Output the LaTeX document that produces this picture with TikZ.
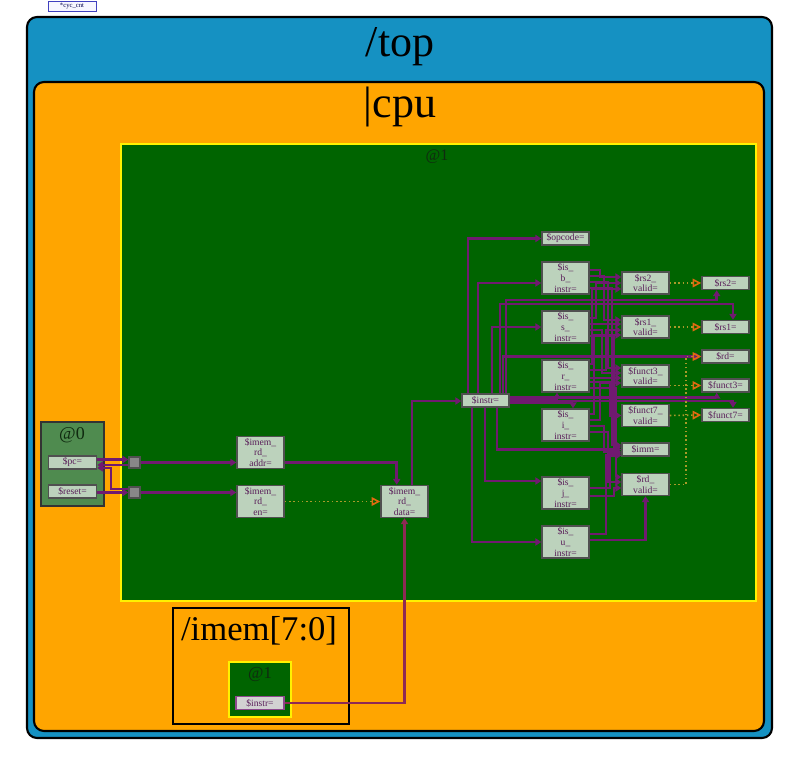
\documentclass[tikz,border=0pt]{standalone}
\usepackage{fontspec}
\setmainfont{Liberation Serif}
\usepackage{tikz}
\usetikzlibrary{arrows.meta}

\definecolor{topblue}{HTML}{1591C2}
\definecolor{cpuorange}{HTML}{FFA500}
\definecolor{stagegreen}{HTML}{006400}
\definecolor{stagezero}{HTML}{4F8B4F}
\definecolor{sigfill}{HTML}{BCD2BC}
\definecolor{sigline}{HTML}{505050}
\definecolor{sigtext}{HTML}{5A1F5A}
\definecolor{wirecol}{HTML}{701A70}
\definecolor{memcol}{HTML}{8E2A55}
\definecolor{validcol}{HTML}{A89A2A}
\definecolor{vhead}{HTML}{E06A10}
\definecolor{stgfill}{HTML}{888888}
\definecolor{labtext}{HTML}{102A10}

\tikzset{
  sig/.style={draw=sigline, fill=sigfill, line width=1.1pt, inner sep=0pt,
    minimum width=35.25pt, align=center, text=sigtext,
    font=\fontsize{7.2}{8}\selectfont},
  sigA/.style={sig, minimum height=9.75pt},
  sigB/.style={sig, minimum height=16.5pt},
  sigC/.style={sig, minimum height=24pt},
  stgbox/.style={draw=sigline, fill=stgfill, line width=0.9pt, minimum size=8.25pt, inner sep=0pt},
  wire/.style={draw=wirecol, line width=1.9pt, -{Triangle[length=4.5pt,width=5.5pt]}},
  vwire/.style={draw=validcol, dotted, line width=1.2pt, -{Triangle[open,length=6.5pt,width=6.5pt,color=vhead]}},
  title/.style={anchor=base, inner sep=0pt, font=\fontsize{33}{33}\selectfont},
  stagelab/.style={inner sep=0pt, text=labtext}
}

\begin{document}
\begin{tikzpicture}[x=0.75pt,y=0.75pt,yscale=-1,xscale=1]
        \useasboundingbox (0,0) rectangle (793,762);
        % Containers
        \draw[line width=1.6pt, fill=topblue, rounded corners=7.5pt] (27,17) rectangle (772,738);
        \draw[line width=1.6pt, fill=cpuorange, rounded corners=7.5pt] (34,82) rectangle (764,731);
        \draw[draw=yellow, line width=0.9pt, fill=stagegreen] (121,144) rectangle (756,601);
        \draw[draw=black!80, line width=0.9pt, fill=stagezero] (41,422) rectangle (104,506);
        \draw[line width=1.6pt] (173,608) rectangle (349,724);
        \draw[draw=yellow, line width=1.3pt, fill=stagegreen] (229,662) rectangle (291,717);
        % Titles
        \node (topT) at (400,57) [title] {/top};
        \node (cpuT) at (400,118) [title] {\textbar cpu};
        \node (imemT) at (259,641) [title, font=\fontsize{26}{26}\selectfont] {/imem[7:0]};
        \node (stgOne) at (437,157) [stagelab, font=\fontsize{12}{12}\selectfont] {@1};
        \node (stgZero) at (72,435) [stagelab, font=\fontsize{13.5}{13.5}\selectfont] {@0};
        \node (stgMem) at (260,675) [stagelab, font=\fontsize{12.5}{12.5}\selectfont] {@1};
        % Cycle counter tag
        \node (cyc) at (72,6.5) [draw=blue!50!gray, fill=blue!3, line width=0.6pt, inner sep=0pt,
            minimum width=36pt, minimum height=8pt, text=blue!30!black,
            font=\fontsize{5}{5}\selectfont] {*cyc\_cnt};
        % Signals @0
        \node (pc) at (72.5,462.5) [sigA, minimum width=36pt] {\$pc=};
        \node (reset) at (72.5,491.5) [sigA, minimum width=36pt] {\$reset=};
        \node (stgPc) at (134.5,462.5) [stgbox] {};
        \node (stgReset) at (134.5,492.5) [stgbox] {};
        % Signals @1
        \node (rdAddr) at (260.5,452.5) [sigC] {\$imem\_\\rd\_\\addr=};
        \node (rdEn) at (260.5,501.5) [sigC] {\$imem\_\\rd\_\\en=};
        \node (rdData) at (404.5,501.5) [sigC] {\$imem\_\\rd\_\\data=};
        \node (instr) at (485.5,400.5) [sigA] {\$instr=};
        \node (opcode) at (565.5,238.5) [sigA] {\$opcode=};
        \node (isB) at (565.5,278) [sigC] {\$is\_\\b\_\\instr=};
        \node (isS) at (565.5,327) [sigC] {\$is\_\\s\_\\instr=};
        \node (isR) at (565.5,376) [sigC] {\$is\_\\r\_\\instr=};
        \node (isI) at (565.5,425) [sigC] {\$is\_\\i\_\\instr=};
        \node (isJ) at (565.5,493) [sigC] {\$is\_\\j\_\\instr=};
        \node (isU) at (565.5,542) [sigC] {\$is\_\\u\_\\instr=};
        \node (rsTwoV) at (645.5,283) [sigB] {\$rs2\_\\valid=};
        \node (rsOneV) at (645.5,327) [sigB] {\$rs1\_\\valid=};
        \node (fThreeV) at (645.5,376) [sigB] {\$funct3\_\\valid=};
        \node (fSevenV) at (645.5,415.5) [sigB] {\$funct7\_\\valid=};
        \node (imm) at (645.5,449.5) [sigA] {\$imm=};
        \node (rdV) at (645.5,484.5) [sigB] {\$rd\_\\valid=};
        \node (rsTwo) at (725.5,283) [sigA] {\$rs2=};
        \node (rsOne) at (725.5,327) [sigA] {\$rs1=};
        \node (rd) at (725.5,356.5) [sigA] {\$rd=};
        \node (fThree) at (725.5,385.5) [sigA] {\$funct3=};
        \node (fSeven) at (725.5,415) [sigA] {\$funct7=};
        % imem
        \node (memInstr) at (260,703) [sigA, minimum width=36pt, fill=gray!35, draw=wirecol!80] {\$instr=};
        % Wires @0 -> @1
        \draw[wire] (pc.east |- 0,459.5) -- (stgPc.west |- 0,459.5);
        \draw[wire] (stgPc.west |- 0,465) -- (pc.east |- 0,465);
        \draw[wire] (stgReset.west |- 0,489) -| (111,468) -- (pc.east |- 0,468);
        \draw[wire] (reset.east |- 0,492.5) -- (stgReset.west |- 0,492.5);
        \draw[wire] (stgPc.east) -- (rdAddr.west |- stgPc.east);
        \draw[wire] (stgReset.east) -- (rdEn.west |- stgReset.east);
        % imem read
        \draw[wire] (rdAddr.east |- 0,462.5) -| (396.7,0 |- rdData.north);
        \draw[vwire] (rdEn.east) -- (rdData.west);
        \draw[wire] (412,0 |- rdData.north) |- (instr.west |- 0,401);
        \draw[wire, draw=memcol] (memInstr.east) -| (404.5,0 |- rdData.south);
        % Decode
        \draw[wire] (468,0 |- instr.north) |- (opcode.west);
        \draw[wire] (478,0 |- instr.north) |- (isB.west |- 0,283);
        \draw[wire] (492,0 |- instr.north) |- (isS.west);
        \draw[wire] (instr.east |- 0,399) -| (557,0 |- isR.south);
        \draw[wire] (instr.east |- 0,403) -| (573,0 |- isI.north);
        \draw[wire] (485,0 |- instr.south) |- (isJ.west |- 0,481);
        \draw[wire] (472,0 |- instr.south) |- (isU.west);
        \draw[wire] (497,0 |- instr.south) |- (imm.west);
        \draw[wire] (503,0 |- instr.north) |- (rd.west);
        \draw[wire] (506,0 |- instr.north) |- (716.7,300) -- (716.7,0 |- rsTwo.south);
        \draw[wire] (500,0 |- instr.north) |- (733,304) -- (733,0 |- rsOne.north);
        \draw[wire] (instr.east |- 0,397.5) -| (716.7,0 |- fThree.south);
        \draw[wire] (instr.east |- 0,401) -| (733,0 |- fSeven.north);
        % Valid logic
        \draw[wire] (isB.east |- 0,270) -| (600,277) -- (rsTwoV.west |- 0,277);
        \draw[wire] (isB.east |- 0,276) -| (604,320) -- (rsOneV.west |- 0,320);
        \draw[wire] (isB.east |- 0,282) -| (608,368) -- (fThreeV.west |- 0,368);
        \draw[wire] (isB.east |- 0,288) -| (612,445) -- (imm.west |- 0,445);
        \draw[wire] (isS.east |- 0,318) -| (596,283) -- (rsTwoV.west |- 0,283);
        \draw[wire] (isS.east |- 0,324) -- (rsOneV.west |- 0,324);
        \draw[wire] (isS.east |- 0,330) -| (602,373) -- (fThreeV.west |- 0,373);
        \draw[wire] (isS.east |- 0,336) -| (614,447) -- (imm.west |- 0,447);
        \draw[wire] (isR.east |- 0,364) -| (592,289) -- (rsTwoV.west |- 0,289);
        \draw[wire] (isR.east |- 0,370) -| (606,330) -- (rsOneV.west |- 0,330);
        \draw[wire] (isR.east |- 0,378) -- (fThreeV.west |- 0,378);
        \draw[wire] (isR.east |- 0,382) -| (610,415.5) -- (fSevenV.west);
        \draw[wire] (isR.east |- 0,388) -| (616,477) -- (rdV.west |- 0,477);
        \draw[wire] (isI.east |- 0,414) -| (594,335) -- (rsOneV.west |- 0,335);
        \draw[wire] (isI.east |- 0,420) -| (600,383) -- (fThreeV.west |- 0,383);
        \draw[wire] (isI.east |- 0,426) -| (604,452) -- (imm.west |- 0,452);
        \draw[wire] (isI.east |- 0,432) -| (608,482) -- (rdV.west |- 0,482);
        \draw[wire] (isJ.east |- 0,488) -| (610,454) -- (imm.west |- 0,454);
        \draw[wire] (isJ.east |- 0,496) -| (614,488) -- (rdV.west |- 0,488);
        \draw[wire] (isU.east |- 0,534) -| (606,455.5) -- (imm.west |- 0,455.5);
        \draw[wire] (isU.east |- 0,540) -- (645.5,540) -- (rdV.south);
        % Valid qualifiers
        \draw[vwire] (rsTwoV.east) -- (rsTwo.west);
        \draw[vwire] (rsOneV.east) -- (rsOne.west);
        \draw[vwire] (fThreeV.east |- fThree.west) -- (fThree.west);
        \draw[vwire] (fSevenV.east) -- (fSeven.west);
        \draw[vwire] (rdV.east) -| (686,0 |- rd.west) -- (rd.west);
\end{tikzpicture}
\end{document}
